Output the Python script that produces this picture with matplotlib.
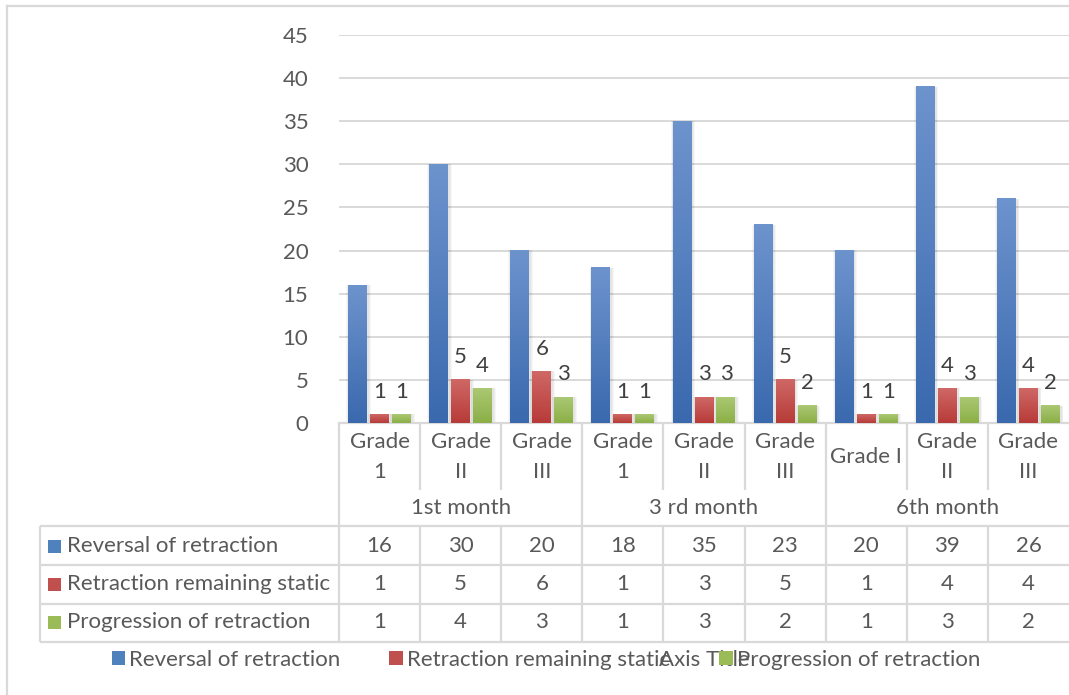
import numpy as np
import matplotlib.pyplot as plt
from matplotlib.colors import LinearSegmentedColormap
from matplotlib.patches import Rectangle
from matplotlib.lines import Line2D

months = ["1st month", "3 rd month", "6th month"]
grades = ["Grade\n1", "Grade\nII", "Grade\nIII",
          "Grade\n1", "Grade\nII", "Grade\nIII",
          "Grade I", "Grade\nII", "Grade\nIII"]
series = ["Reversal of retraction", "Retraction remaining static", "Progression of retraction"]
reversal = [16, 30, 20, 18, 35, 23, 20, 39, 26]
static = [1, 5, 6, 1, 3, 5, 1, 4, 4]
progression = [1, 4, 3, 1, 3, 2, 1, 3, 2]
yticks = [0, 5, 10, 15, 20, 25, 30, 35, 40, 45]

# (flat colour, top of gradient, bottom of gradient)
colors = [("#4F81BD", "#6D93CD", "#3A69AE"),
          ("#C0504D", "#CF6866", "#B73B38"),
          ("#9BBB59", "#ABC873", "#8CAF47")]

plt.rcParams['font.family'] = ['Lato', 'DejaVu Sans']
fs = 16
txt = "#595959"
grid = "#D9D9D9"

W, H = 1069, 695
fig = plt.figure(figsize=(W / 100, H / 100), dpi=100)


def fx(px):
    return px / W


def fy(py):
    return 1 - py / H


ax = fig.add_axes([fx(339), fy(423), fx(1069) - fx(339), fy(35) - fy(423)])
tab = fig.add_axes([fx(339), fy(642), fx(1069) - fx(339), fy(423) - fy(642)], sharex=ax)

x = np.arange(len(grades))
width = 0.234
offsets = [-0.271, 0, 0.271]
data = [reversal, static, progression]

for k, vals in enumerate(data):
    flat, top, bot = colors[k]
    cmap = LinearSegmentedColormap.from_list("g%d" % k, [bot, top])
    bars = ax.bar(x + offsets[k], vals, width, color=flat, zorder=3)
    for b in bars:
        x0, w, h = b.get_x(), b.get_width(), b.get_height()
        # soft shadow around each bar
        for s in range(1, 4):
            d = 0.011 * s
            ax.add_patch(Rectangle((x0 - d + 0.01, 0), w + 2 * d, h + d * 0.35,
                                   color="black", alpha=0.035, lw=0, zorder=2))
        grad = np.linspace(1, 0, 64).reshape(-1, 1)
        ax.imshow(grad, cmap=cmap, extent=[x0, x0 + w, 0, h], aspect='auto',
                  origin='upper', zorder=3.5, interpolation='bilinear')
    if k > 0:
        for xi, v in zip(x + offsets[k], vals):
            ax.annotate(str(v), (xi, v), xytext=(0, 12), textcoords='offset points',
                        ha='center', va='baseline', fontsize=fs, color="#404040", zorder=5)

ax.set_xlim(-0.5, len(grades) - 0.5)
ax.set_ylim(0, 45)
ax.set_yticks(yticks)
ax.yaxis.grid(True, color=grid, lw=1.4, zorder=0)
ax.set_axisbelow(True)
ax.tick_params(axis='y', length=0, pad=22, labelsize=fs, labelcolor=txt)
ax.tick_params(axis='x', length=0, labelbottom=False)
for side in ["left", "right", "top"]:
    ax.spines[side].set_visible(False)
ax.spines["bottom"].set_color(grid)
ax.spines["bottom"].set_linewidth(1.6)

# data table under the category axis
tab.set_ylim(642, 423)
tab.axis("off")
left = -0.5 - (339 - 40) / 81.11
right = len(grades) - 0.5
row_y = [526, 565, 603.5, 642]
line_kw = dict(color=grid, lw=1.6, clip_on=False, solid_capstyle='butt')
for ry in row_y:
    tab.plot([left, right], [ry, ry], **line_kw)
tab.plot([left, left], [526, 642], **line_kw)
for b in [-0.5, 2.5, 5.5]:
    tab.plot([b, b], [423, 642], **line_kw)
for b in [0.5, 1.5, 3.5, 4.5, 6.5, 7.5]:
    tab.plot([b, b], [423, 490], **line_kw)
    tab.plot([b, b], [526, 642], **line_kw)

for xi, g in zip(x, grades):
    tab.text(xi, 457, g, ha='center', va='center', fontsize=fs, color=txt,
             linespacing=1.6, clip_on=False)
for m, name in enumerate(months):
    tab.text(3 * m + 1, 508, name, ha='center', va='center', fontsize=fs, color=txt,
             clip_on=False)

row_c = [546, 584, 622]
sq = 13 / 81.11
for k, vals in enumerate(data):
    tab.add_patch(Rectangle((-0.5 - (339 - 48) / 81.11, row_c[k] - 6.5), sq, 13,
                            color=colors[k][0], lw=0, clip_on=False))
    tab.text(-0.5 - (339 - 67) / 81.11, row_c[k], series[k], ha='left', va='center',
             fontsize=fs, color=txt, clip_on=False)
    for xi, v in zip(x, vals):
        tab.text(xi, row_c[k], str(v), ha='center', va='center', fontsize=fs,
                 color=txt, clip_on=False)

# legend and axis title along the bottom
handles = [Rectangle((0, 0), 1, 1, color=c[0], lw=0) for c in colors]
fig.legend(handles, series, loc='center', bbox_to_anchor=(fx(546), fy(660)), ncol=3,
           frameon=False, fontsize=fs, labelcolor=txt, handlelength=0.6,
           handleheight=0.6, handletextpad=0.2, columnspacing=2.2)
fig.text(fx(704), fy(660), "Axis Title", ha='center', va='center', fontsize=fs, color=txt)

# chart area border
fig.add_artist(Line2D([fx(7), fx(7)], [fy(6), 0], color=grid, lw=1.6))
fig.add_artist(Line2D([fx(7), 1], [fy(6), fy(6)], color=grid, lw=1.6))

fig.savefig("out.png", dpi=100)
